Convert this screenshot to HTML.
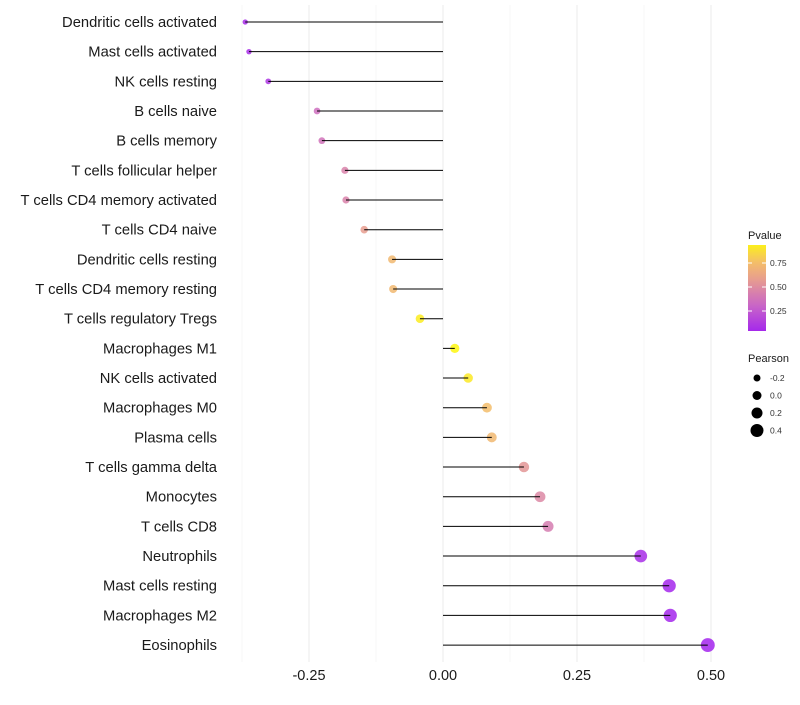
<!DOCTYPE html>
<html><head><meta charset="utf-8"><style>
body{margin:0;background:#fff;font-family:"Liberation Sans",sans-serif}
</style></head><body>
<svg id="chart" width="800" height="700" xmlns="http://www.w3.org/2000/svg"></svg>
<script>
const categories=["Dendritic cells activated","Mast cells activated","NK cells resting","B cells naive","B cells memory","T cells follicular helper","T cells CD4 memory activated","T cells CD4 naive","Dendritic cells resting","T cells CD4 memory resting","T cells regulatory  Tregs ","Macrophages M1","NK cells activated","Macrophages M0","Plasma cells","T cells gamma delta","Monocytes","T cells CD8","Neutrophils","Mast cells resting","Macrophages M2","Eosinophils"];
const pearson=[-0.369,-0.362,-0.326,-0.235,-0.226,-0.183,-0.181,-0.147,-0.095,-0.093,-0.043,0.022,0.047,0.082,0.091,0.151,0.181,0.196,0.369,0.422,0.424,0.494];
const pvalue=[0.05,0.06,0.1,0.35,0.37,0.45,0.45,0.58,0.72,0.72,0.93,0.97,0.92,0.75,0.72,0.55,0.48,0.42,0.06,0.03,0.03,0.02];
const xTicks=[-0.25,0,0.25,0.5];
const xTickLabels=["-0.25","0.00","0.25","0.50"];
const minorTicks=[-0.375,-0.125,0.125,0.375];
const pTicks=[0.25,0.5,0.75];
const sizeTicks=[-0.2,0,0.2,0.4];

const svg=document.getElementById('chart');
const NS="http://www.w3.org/2000/svg";
const x=v=>443+v*536;
const y=i=>22+i*29.67;
const r=v=>Math.max(1.5,4.5+5*v);
const STOPS=[[0,[160,32,240]],[0.3,[200,100,200]],[0.5,[222,140,160]],[0.62,[235,165,135]],[0.78,[245,195,100]],[1,[255,255,0]]];
function col(p){
  let k=0;while(k<STOPS.length-2&&p>STOPS[k+1][0])k++;
  const a=STOPS[k],b=STOPS[k+1];
  const t=Math.min(1,Math.max(0,(p-a[0])/(b[0]-a[0])));
  return 'rgb('+a[1].map((c,j)=>Math.round(c+(b[1][j]-c)*t)).join(',')+')';
}
function el(tag,attrs,parent){const e=document.createElementNS(NS,tag);for(const k in attrs)e.setAttribute(k,attrs[k]);(parent||svg).appendChild(e);return e;}
minorTicks.forEach(v=>{const l=el('line',{x1:x(v),x2:x(v),y1:5,y2:662,stroke:'#f2f2f2','stroke-width':0.6});

});
xTicks.forEach((v,i)=>{const l=el('line',{x1:x(v),x2:x(v),y1:5,y2:662,stroke:'#ebebeb','stroke-width':1});


const t=el('text',{x:x(v),y:680,'text-anchor':'middle','font-size':14.5,fill:'#1a1a1a'});t.textContent=xTickLabels[i];

});
categories.forEach((c,i)=>{
  const t=el('text',{x:217,y:y(i)+5,'text-anchor':'end','font-size':14.75,fill:'#1a1a1a'});t.textContent=c;
  
  
  const d=el('circle',{cx:x(pearson[i]),cy:y(i),r:r(pearson[i]),fill:col(pvalue[i]),'fill-opacity':0.85});
  
  
  const l=el('line',{x1:x(0),x2:x(pearson[i]),y1:y(i),y2:y(i),stroke:'#000','stroke-width':1});
  
  
});
const lt=el('text',{x:748,y:239,'font-size':11,fill:'#1a1a1a'});lt.textContent='Pvalue';


const defs=el('defs',{});const g=el('linearGradient',{id:'pg',x1:0,y1:1,x2:0,y2:0},defs);
for(let s=0;s<=10;s++){const p=0.04+0.09*s;el('stop',{offset:s/10,'stop-color':col(p)},g);}
const bar=el('rect',{x:748,y:245,width:18,height:86,fill:'url(#pg)'});


const py=p=>335-p*96;
pTicks.forEach(p=>{el('line',{x1:748,x2:752,y1:py(p),y2:py(p),stroke:'#fff'});el('line',{x1:762,x2:766,y1:py(p),y2:py(p),stroke:'#fff'});
const t=el('text',{x:770,y:py(p)+3,'font-size':8.5,fill:'#333'});t.textContent=p.toFixed(2);

});
const st=el('text',{x:748,y:362,'font-size':11,fill:'#1a1a1a'});st.textContent='Pearson';


sizeTicks.forEach((v,i)=>{const cy=378+i*17.5;
const c=el('circle',{cx:757,cy:cy,r:r(v),fill:'#000'});


const t=el('text',{x:770,y:cy+3,'font-size':8.5,fill:'#333'});t.textContent=v===0?'0.0':String(v);

});
</script>
</body></html>
